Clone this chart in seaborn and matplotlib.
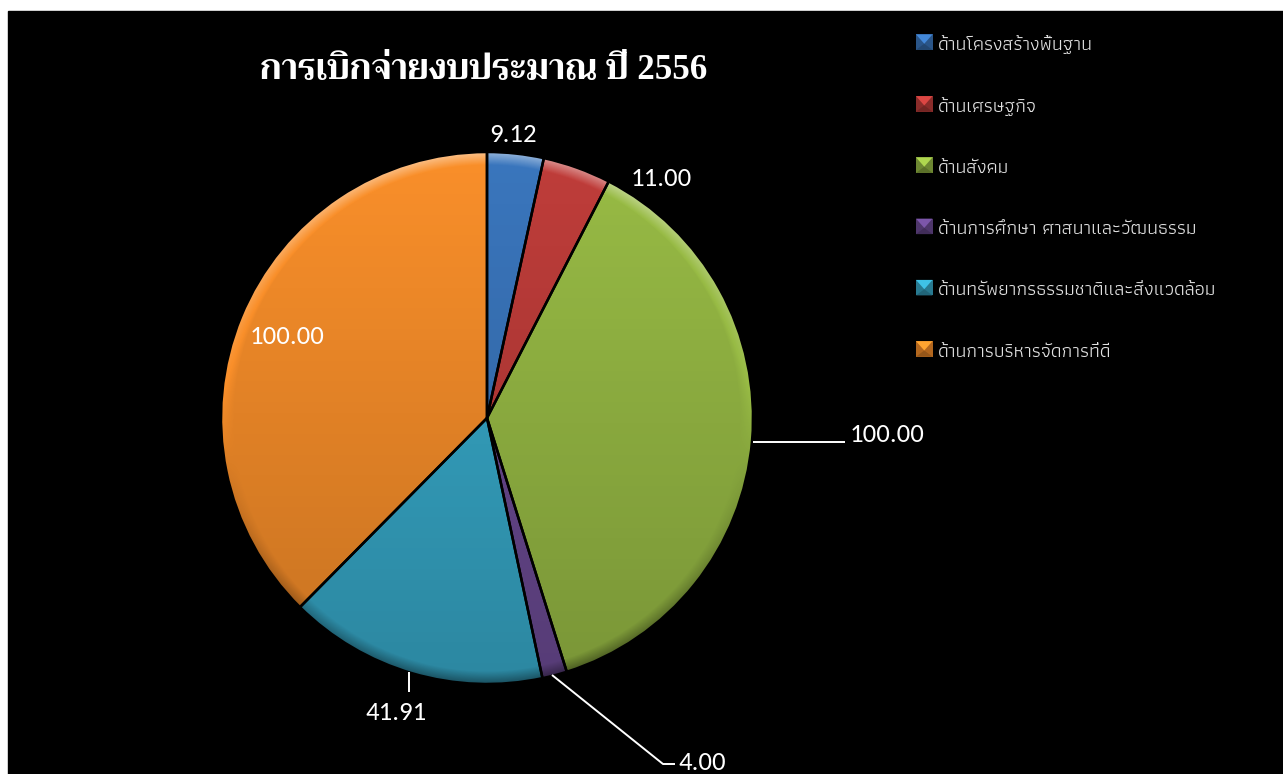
import numpy as np
import seaborn as sns
import matplotlib
matplotlib.use("Agg")
import matplotlib.pyplot as plt
from matplotlib.patches import Circle, Patch, Polygon, Rectangle, Wedge
from matplotlib.legend_handler import HandlerPatch

sns.set_theme(style="white")
plt.rcParams["font.family"] = ["Athiti", "Noto Sans Thai", "DejaVu Sans"]

title = "การเบิกจ่ายงบประมาณ ปี 2556"
categories = [
    "ด้านโครงสร้างพื้นฐาน",
    "ด้านเศรษฐกิจ",
    "ด้านสังคม",
    "ด้านการศึกษา ศาสนาและวัฒนธรรม",
    "ด้านทรัพยากรธรรมชาติและสิ่งแวดล้อม",
    "ด้านการบริหารจัดการที่ดี",
]
values = [9.12, 11.00, 100.00, 4.00, 41.91, 100.00]
value_labels = ["9.12", "11.00", "100.00", "4.00", "41.91", "100.00"]
palette = sns.color_palette(["#3a76bd", "#bf3d3a", "#98bb45", "#6c4b94", "#37a9c9", "#f98f2a"])

W, H = 1283, 774
CX, CY, R = 487, 418, 266
label_font = ["Carlito", "Open Sans", "DejaVu Sans"]
label_spots = [(513, 134), (661, 179), (887, 435), (702, 763), (396, 712), (287, 337)]
leaders = [None, None, [(753, 442), (845, 442)],
           [(552, 675), (663, 764), (675, 764)], [(409, 692), (409, 672)], None]


class BevelHandler(HandlerPatch):
    # small square with a lit top edge, like the office bevel style
    def create_artists(self, legend, orig_handle, xdescent, ydescent, width, height, fontsize, trans):
        c = np.array(orig_handle.get_facecolor()[:3])
        w, h = width, height
        base = Rectangle((0, 0), w, h, facecolor=c * 0.72, transform=trans, lw=0)
        top = Polygon([(0, h), (w, h), (w / 2, h * 0.4)], facecolor=np.minimum(c * 1.15, 1), transform=trans, lw=0)
        bottom = Polygon([(0, 0), (w, 0), (w / 2, h * 0.4)], facecolor=c * 0.6, transform=trans, lw=0)
        return [base, bottom, top]


fig = plt.figure(figsize=(W / 100, H / 100), dpi=100, facecolor="white")
ax = fig.add_axes([0, 0, 1, 1])
ax.add_patch(Rectangle((8, 11), W - 8, H - 11, color="black", zorder=0))

# y axis runs downwards, so a rising angle goes clockwise on screen
wedges, _ = ax.pie(values, colors=palette, startangle=270, counterclock=True,
                   center=(CX, CY), radius=R, frame=True,
                   wedgeprops=dict(linewidth=0, zorder=1))

# lighting on top of the slices: vertical fade plus a bevel along the rim
yy, xx = np.mgrid[0:H, 0:W] + 0.5
dx, dy = xx - CX, yy - CY
rr = np.hypot(dx, dy) + 1e-6
light = -0.20 * np.clip((yy - (CY - R)) / (2 * R), 0, 1)
rim = np.clip((rr - (R - 13)) / 13, 0, 1)
light = light + rim * (-dy / rr) * 0.40 + rim * 0.06
shade = np.zeros((H, W, 4))
shade[..., :3] = (light > 0)[..., None]
shade[..., 3] = np.abs(light)
img = ax.imshow(shade, extent=(0, W, H, 0), aspect="auto", zorder=2, interpolation="bilinear")
img.set_clip_path(Circle((CX, CY), R, transform=ax.transData))

for w in wedges:
    ax.add_patch(Wedge(w.center, w.r, w.theta1, w.theta2, facecolor="none",
                       edgecolor="black", linewidth=1.8, zorder=3))

for text, spot, line in zip(value_labels, label_spots, leaders):
    ax.text(spot[0], spot[1], text, color="white", fontsize=19.3, family=label_font,
            ha="center", va="center", zorder=5)
    if line:
        ax.plot(*zip(*line), color="white", lw=1.4, zorder=4, solid_capstyle="butt")

ax.text(484, 70, title, color="white", fontsize=25.2, fontweight="bold",
        family=["Liberation Serif", "Trirong", "Noto Serif Thai", "DejaVu Serif"],
        ha="center", va="center", zorder=5)

handles = [Patch(facecolor=c, label=n) for c, n in zip(palette, categories)]
leg = ax.legend(handles=handles, loc="upper left", bbox_to_anchor=(916, 35), bbox_transform=ax.transData,
                frameon=False, fontsize=14, labelcolor="#e2e2e2", handlelength=0.85, handleheight=0.85,
                handletextpad=0.3, labelspacing=2.2, borderpad=0, borderaxespad=0,
                handler_map={Patch: BevelHandler()})

ax.set_xlim(0, W)
ax.set_ylim(H, 0)
ax.axis("off")
fig.savefig("out.png", dpi=100, facecolor="white")
